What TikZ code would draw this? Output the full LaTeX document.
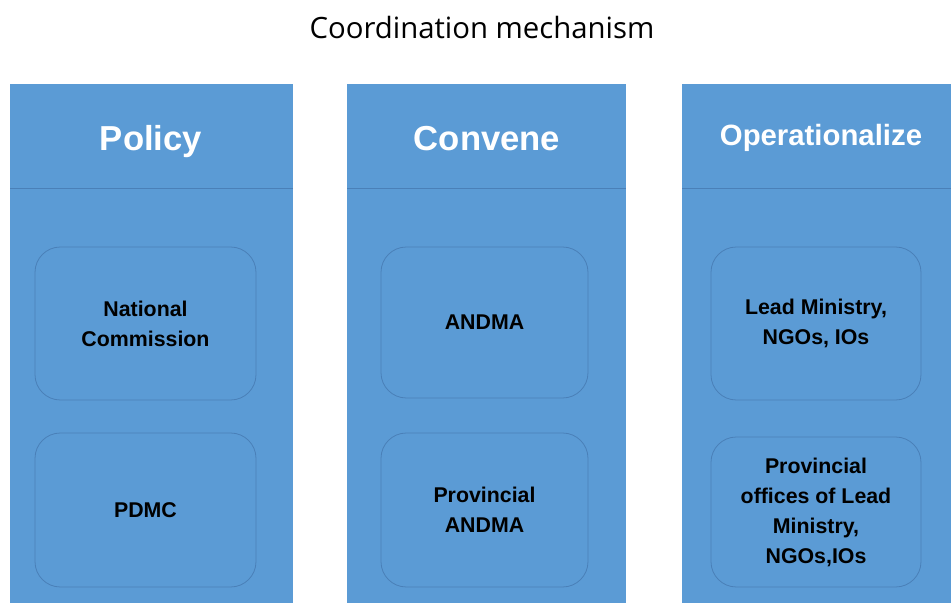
\documentclass[tikz,border=0pt]{standalone}
\usepackage{fontspec}
\setmainfont{Liberation Sans}
\newfontfamily\titlefont{Open Sans}
\usetikzlibrary{positioning}
\definecolor{colblue}{HTML}{5B9BD5}
\definecolor{edgeblue}{HTML}{4A80B8}

\begin{document}
\begin{tikzpicture}[
  x=0.75pt, y=-0.75pt,
  every node/.style={anchor=center},
  head/.style={anchor=base, text=white, font=\bfseries\fontsize{#1}{30}\selectfont},
  head/.default=25.5,
  unit/.style={draw=edgeblue, line width=0.6pt, rounded corners=19pt,
    align=center, font=\bfseries\fontsize{16}{22.5}\selectfont},
]
\useasboundingbox (0,0) rectangle (951,603);
\node[font=\titlefont\fontsize{22}{26}\selectfont] (title) at (482,27)
  {Coordination mechanism};
% the three columns with their headings
\foreach \name/\xa/\xb/\xh/\yh/\sz/\head in {
  policy/10/293/151/150/26/Policy,
  convene/347/626/487/150/26/Convene,
  oper/682/951/821/145/22/Operationalize} {
  \fill[colblue] (\xa,84) rectangle (\xb,603);
  \draw[edgeblue, line width=0.6pt] (\xa,188) -- (\xb,188);
  \node[head=\sz] (\name) at (\xh,\yh) {\head};
}
% bodies in each column: name, left, top, right, bottom, text
\foreach \name/\xa/\ya/\xb/\yb/\txt in {
  natcom/35/247/256/400/{National\\Commission},
  pdmc/35/433/256/587/{PDMC},
  andma/381/247/588/398/{ANDMA},
  provandma/381/433/588/587/{Provincial\\ANDMA},
  lead/711/247/921/400/{Lead Ministry,\\NGOs, IOs},
  provlead/711/437/921/587/{Provincial\\offices of Lead\\Ministry,\\NGOs,IOs}}
  \node[unit, minimum width={(\xb-\xa)*0.75pt}, minimum height={(\yb-\ya)*0.75pt}]
    (\name) at ({(\xa+\xb)/2},{(\ya+\yb)/2}) {\txt};
\end{tikzpicture}
\end{document}
